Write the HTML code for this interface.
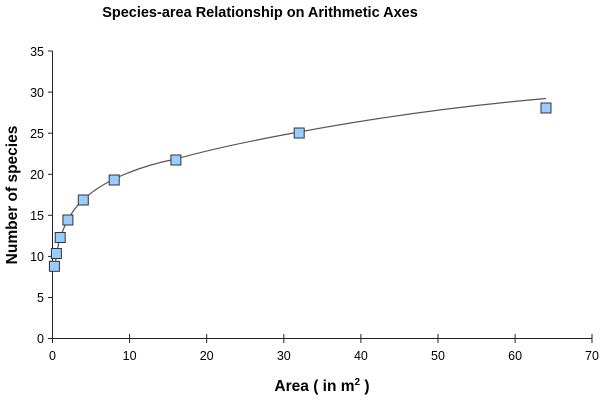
<!DOCTYPE html>
<html><head><meta charset="utf-8"><style>
html,body{margin:0;padding:0;background:#fff;}
svg{display:block;font-family:"Liberation Sans",Arial,sans-serif;}
</style></head><body>
<svg width="600" height="400" viewBox="0 0 600 400">
<rect width="600" height="400" fill="#fff"/>
<text x="260" y="17" text-anchor="middle" font-size="14.5" font-weight="bold">Species-area Relationship on Arithmetic Axes</text>
<g stroke="#222" stroke-width="1" fill="none">
<line x1="52.5" y1="51" x2="52.5" y2="339"/>
<line x1="52.5" y1="338.5" x2="592" y2="338.5"/>
<line x1="48" y1="338.5" x2="52.5" y2="338.5"/>
<line x1="48" y1="297.5" x2="52.5" y2="297.5"/>
<line x1="48" y1="256.4" x2="52.5" y2="256.4"/>
<line x1="48" y1="215.3" x2="52.5" y2="215.3"/>
<line x1="48" y1="174.3" x2="52.5" y2="174.3"/>
<line x1="48" y1="133.2" x2="52.5" y2="133.2"/>
<line x1="48" y1="92.1" x2="52.5" y2="92.1"/>
<line x1="48" y1="51" x2="52.5" y2="51"/>
<line x1="52.5" y1="338.5" x2="52.5" y2="343"/>
<line x1="129.6" y1="334" x2="129.6" y2="343"/>
<line x1="206.7" y1="334" x2="206.7" y2="343"/>
<line x1="283.8" y1="334" x2="283.8" y2="343"/>
<line x1="360.9" y1="334" x2="360.9" y2="343"/>
<line x1="438" y1="334" x2="438" y2="343"/>
<line x1="515.1" y1="334" x2="515.1" y2="343"/>
<line x1="592" y1="334" x2="592" y2="343"/>
</g>
<g font-size="12.5" text-anchor="end">
<text x="44" y="343">0</text><text x="44" y="302">5</text><text x="44" y="261">10</text>
<text x="44" y="220">15</text><text x="44" y="179">20</text><text x="44" y="138">25</text>
<text x="44" y="97">30</text><text x="44" y="56">35</text>
</g>
<g font-size="12.5" text-anchor="middle">
<text x="52.5" y="360">0</text><text x="129.6" y="360">10</text><text x="206.7" y="360">20</text>
<text x="283.8" y="360">30</text><text x="360.9" y="360">40</text><text x="438" y="360">50</text>
<text x="515.1" y="360">60</text><text x="592" y="360">70</text>
</g>
<text x="322" y="391" text-anchor="middle" font-size="15.5" font-weight="bold">Area ( in m<tspan font-size="10" dy="-6">2</tspan><tspan dy="6"> )</tspan></text>
<text transform="translate(17,195) rotate(-90)" text-anchor="middle" font-size="15.5" font-weight="bold">Number of species</text>
<path fill="none" stroke="#555" stroke-width="1.2" d="M54.5,270 C56,258 57.5,245 60.2,238 C63,230 65,224 67.9,220 C72,212 77,205 83.3,200 C92,191 102,185 114.2,179 C135,169 155,163 175.9,159 C215,148 255,140 299,132 C380,117 460,106 546,98.5"/>
<g fill="#99ccff" stroke="#333" stroke-width="1">
<rect x="49.4" y="261.3" width="10" height="10"/>
<rect x="51.4" y="248.5" width="10" height="10"/>
<rect x="55.2" y="232.5" width="10" height="10"/>
<rect x="62.9" y="215" width="10" height="10"/>
<rect x="78.3" y="195" width="10" height="10"/>
<rect x="109.2" y="175" width="10" height="10"/>
<rect x="170.9" y="155" width="10" height="10"/>
<rect x="294.2" y="128" width="10" height="10"/>
<rect x="541" y="103" width="10" height="10"/>
</g>
</svg>
</body></html>
